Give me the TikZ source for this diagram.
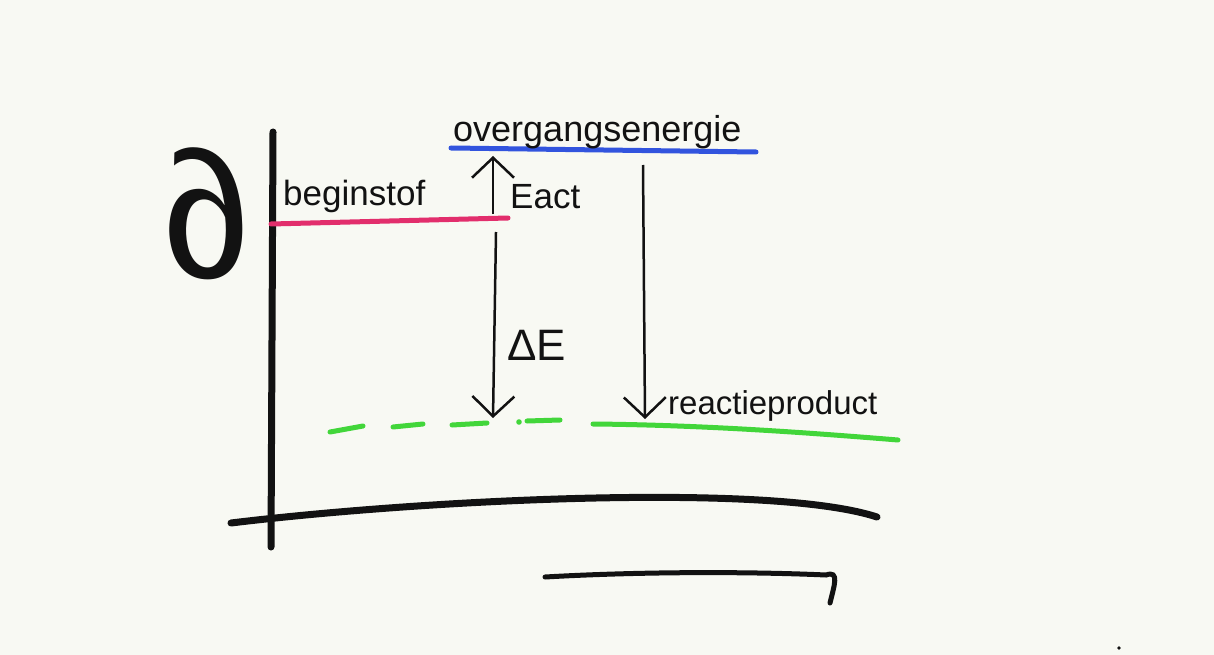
\documentclass[tikz,border=0pt]{standalone}
\usepackage{fontspec}
\setmainfont{Liberation Sans}
\usetikzlibrary{positioning, arrows.meta}

\definecolor{paper}{RGB}{248,249,243}
\definecolor{ink}{RGB}{18,18,18}
\definecolor{lvlpink}{RGB}{226,46,108}
\definecolor{lvlblue}{RGB}{50,84,222}
\definecolor{lvlgreen}{RGB}{66,214,58}

\begin{document}
\begin{tikzpicture}[
    x=1pt, y=-1pt,
    >={Straight Barb[length=20pt, width=42pt]},
    axis/.style={draw=ink, line width=7pt, line cap=round},
    level/.style={line width=5pt, line cap=round},
    gap arrow/.style={draw=ink, line width=2.5pt, ->},
    big label/.style={font=\fontsize{35}{40}\selectfont, text=ink,
                      inner sep=0pt, anchor=base west},
    small label/.style={font=\fontsize{33}{36}\selectfont, text=ink,
                        inner sep=0pt, anchor=base west},
]

% --- paper ---
\fill[paper] (0,0) rectangle (1214,655);
\useasboundingbox (0,0) rectangle (1214,655);

% =====================================================================
%  AXES
% =====================================================================
\coordinate (ytop) at (273,132);
\coordinate (ybot) at (271,547);
\coordinate (xleft) at (231,523);
\coordinate (xright) at (877,517);

\draw[axis] (ytop) -- (ybot);
\draw[axis] (xleft) .. controls (420,500) and (770,482) .. (xright);

% --- energy symbol on the y axis ---
\node[font=\fontsize{180}{190}\selectfont, text=ink, inner sep=0pt,
      xslant=-0.22] (elabel) at (204,214) {∂};

% --- reaction direction ---
\coordinate (rstart) at (545,577);
\coordinate (rend) at (826,575);
\coordinate (rhook) at (830,603);
\draw[ink, line width=5pt, line cap=round]
    (rstart) .. controls (650,571) and (760,572) .. (rend)
    .. controls (840,570) and (834,586) .. (rhook);

% =====================================================================
%  ENERGY LEVELS
% =====================================================================
% --- beginstof (pink) ---
\coordinate (begL) at (271,224);
\coordinate (begR) at (508,218);
\draw[level, lvlpink] (begL) -- (begR);
\node[big label] (beginstof) at (283,205) {beginstof};

% --- overgangsenergie (blue) ---
\coordinate (ovgL) at (451,148);
\coordinate (ovgR) at (756,152);
\draw[level, lvlblue] (ovgL) -- (ovgR);
\node[big label, font=\fontsize{36}{40}\selectfont] (overgang) at (453,142) {overgangsenergie};

% --- reactieproduct (green) ---
\coordinate (prodL) at (593,424);
\coordinate (prodR) at (898,440);
\draw[level, lvlgreen] (prodL) .. controls (700,425) and (800,432) .. (prodR);
\draw[level, lvlgreen] (330,432) -- (363,426);
\draw[level, lvlgreen] (393,427) -- (423,424);
\draw[level, lvlgreen] (452,425) -- (487,423);
\fill[lvlgreen] (519,422) circle (2.8);
\draw[level, lvlgreen] (527,421) -- (560,420);
\node[small label] (product) at (668,414) {reactieproduct};

% =====================================================================
%  ARROWS
% =====================================================================
\coordinate (actfrom) at (493,214);
\coordinate (actto) at (493,156);
\coordinate (dEfrom) at (496,232);
\coordinate (dEto) at (493,418);
\coordinate (relfrom) at (643,165);
\coordinate (relto) at (645,419);

\draw[gap arrow] (actfrom) -- (actto);
\draw[gap arrow] (dEfrom) -- (dEto);
\draw[gap arrow] (relfrom) -- (relto);

\node[big label] (eact) at (510,208) {Eact};
\node[big label, font=\fontsize{44}{50}\selectfont] (dE) at (507,360) {ΔE};

% --- stray dot ---
\fill[ink] (1119,648) circle (1.8);

\end{tikzpicture}
\end{document}
